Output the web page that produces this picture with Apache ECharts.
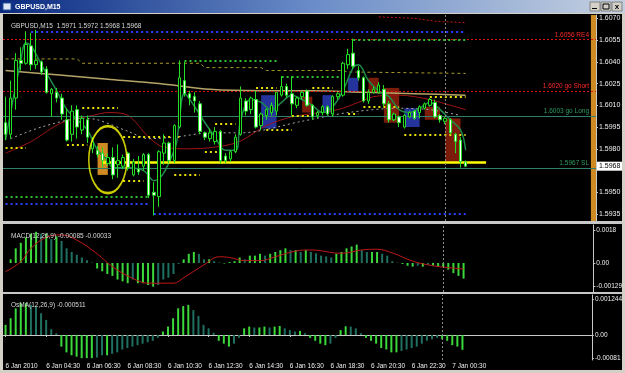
<!DOCTYPE html>
<html><head><meta charset="utf-8">
<script src="https://cdn.jsdelivr.net/npm/echarts@6/dist/echarts.min.js"></script>
<style>html,body{margin:0;padding:0;background:#000;}#c{width:625px;height:373px;}</style>
</head><body><div id="c"></div>
<script>
const symbolName = 'GBPUSD,M15';
const ohlcText = '1.5971 1.5972 1.5968 1.5968';
const macdTitle = 'MACD(12,26,9) -0.00085 -0.00033';
const osmaTitle = 'OsMA(12,26,9) -0.000511';
// candles: [open, close, low, high]
const candles = [
[1.5998,1.5990,1.5986,1.6016],[1.5990,1.6015,1.5987,1.6027],[1.6015,1.6041,1.6007,1.6046],[1.6041,1.6039,1.6034,1.6050],
[1.6039,1.6052,1.6038,1.6061],[1.6051,1.6038,1.6034,1.6060],[1.6038,1.6041,1.6035,1.6062],[1.6040,1.6033,1.6031,1.6041],
[1.6035,1.6019,1.6018,1.6037],[1.6018,1.6021,1.6002,1.6022],[1.6019,1.6015,1.6012,1.6022],[1.6015,1.6004,1.6000,1.6018],
[1.6000,1.5986,1.5985,1.6008],[1.5990,1.6006,1.5985,1.6010],[1.6007,1.5995,1.5987,1.6010],[1.5993,1.6001,1.5990,1.6003],
[1.6000,1.5988,1.5984,1.6003],[1.5980,1.5985,1.5977,1.5988],[1.5979,1.5976,1.5974,1.5982],[1.5977,1.5972,1.5967,1.5981],
[1.5970,1.5974,1.5968,1.5977],[1.5974,1.5962,1.5959,1.5981],[1.5969,1.5972,1.5960,1.5983],[1.5968,1.5974,1.5966,1.5976],
[1.5977,1.5967,1.5965,1.5978],[1.5962,1.5971,1.5961,1.5973],[1.5966,1.5964,1.5962,1.5975],[1.5968,1.5976,1.5965,1.5977],
[1.5976,1.5948,1.5946,1.5977],[1.5950,1.5948,1.5934,1.5957],[1.5947,1.5978,1.5940,1.5979],[1.5977,1.5984,1.5969,1.5990],
[1.5984,1.5972,1.5970,1.5985],[1.5972,1.5996,1.5970,1.5997],[1.5995,1.6029,1.5994,1.6041],[1.6027,1.6018,1.6016,1.6040],
[1.6018,1.6015,1.6010,1.6020],[1.6016,1.6013,1.6005,1.6019],[1.6011,1.5992,1.5990,1.6013],[1.5991,1.5988,1.5986,1.5992],
[1.5987,1.5991,1.5985,1.5994],[1.5985,1.5992,1.5983,1.5995],[1.5992,1.5972,1.5970,1.5993],[1.5975,1.5972,1.5970,1.5977],
[1.5973,1.5978,1.5971,1.5979],[1.5978,1.5988,1.5977,1.5990],[1.5990,1.6015,1.5989,1.6023],[1.6013,1.6006,1.6003,1.6015],
[1.6007,1.6015,1.6004,1.6016],[1.6014,1.5995,1.5994,1.6020],[1.5996,1.6004,1.5993,1.6005],[1.6003,1.6007,1.6000,1.6008],
[1.6005,1.6010,1.6003,1.6012],[1.6006,1.6019,1.6003,1.6019],[1.6017,1.6023,1.6016,1.6030],[1.6023,1.6017,1.6015,1.6025],
[1.6018,1.6011,1.6003,1.6030],[1.6010,1.6015,1.6008,1.6016],[1.6016,1.6019,1.6014,1.6020],[1.6020,1.6010,1.6009,1.6021],
[1.6010,1.6002,1.6000,1.6011],[1.6003,1.6005,1.6001,1.6006],[1.6005,1.6009,1.6003,1.6010],[1.6009,1.6004,1.6003,1.6010],
[1.6004,1.6016,1.6002,1.6017],[1.6016,1.6018,1.6014,1.6019],[1.6017,1.6039,1.6016,1.6040],[1.6038,1.6045,1.6035,1.6049],
[1.6046,1.6037,1.6035,1.6056],[1.6034,1.6029,1.6027,1.6037],[1.6029,1.6013,1.6012,1.6030],[1.6013,1.6019,1.6011,1.6021],
[1.6019,1.6021,1.6018,1.6023],[1.6019,1.6024,1.6018,1.6026],[1.6021,1.6011,1.6009,1.6024],[1.6011,1.6000,1.5998,1.6013],
[1.6000,1.6004,1.5999,1.6005],[1.6002,1.5998,1.5995,1.6003],[1.5995,1.6003,1.5994,1.6004],[1.6002,1.6005,1.6001,1.6006],
[1.6006,1.6001,1.6000,1.6007],[1.6005,1.6009,1.6001,1.6010],[1.6008,1.6011,1.6007,1.6012],[1.6010,1.6014,1.6009,1.6015],
[1.6012,1.6002,1.6001,1.6014],[1.6003,1.6000,1.5998,1.6004],[1.5999,1.6001,1.5997,1.6002],[1.6000,1.5991,1.5990,1.6001],
[1.5990,1.5985,1.5977,1.5991],[1.5986,1.5971,1.5967,1.5988],[1.5971,1.5968,1.5968,1.5972]
];
const slotCount = 116;
const barsPerLabel = 8;
const timeLabels = ['6 Jan 2010','6 Jan 04:30','6 Jan 06:30','6 Jan 08:30','6 Jan 10:30','6 Jan 12:30',
  '6 Jan 14:30','6 Jan 16:30','6 Jan 18:30','6 Jan 20:30','6 Jan 22:30','7 Jan 00:30'];
const priceTicks = [1.5935,1.5950,1.5980,1.5995,1.6010,1.6025,1.6040,1.6055,1.6070];
const priceRange = [1.59302, 1.60723];
const lastPrice = 1.5968;
const macdHist = [
0,0.0002,0.0008,0.0011,0.0014,0.0016,0.0017,0.0016,0.0016,0.0013,
0.00145,0.0012,0.0008,0.0006,0.00045,0.0003,0.00015,0.00002,-0.0003,-0.00045,
-0.0006,-0.0007,-0.0009,-0.001,-0.0011,-0.0009,-0.0011,-0.0011,-0.0012,-0.00129,
-0.0012,-0.0009,-0.0008,-0.0006,-0.00005,0.0002,0.0005,0.0006,0.0005,0.0002,
0.0002,0.0001,0.00003,-0.00003,0.00005,0.0001,0.0003,0.0002,0.0004,0.0004,
0.0005,0.0004,0.0005,0.0006,0.0007,0.0008,0.0007,0.0007,0.0006,0.0007,
0.0006,0.00053,0.0004,0.00036,0.0003,0.0005,0.0006,0.0008,0.0009,0.001,
0.0007,0.0006,0.0006,0.0006,0.0005,0.0004,0.0001,0.00002,-0.00005,-0.00015,
-0.0002,-0.00015,-0.0002,-0.0001,-0.00015,-0.0002,-0.00022,-0.00036,-0.00055,-0.0007,
-0.00085];
const macdSignal = [[0,-0.00047],[3,0.00007],[5,0.0008],[8,0.0014],[11,0.00153],[14,0.00125],[18,0.0005],
  [21,-0.0002],[25,-0.00084],[28,-0.0011],[33,-0.0011],[35,-0.0008],[39,-0.0001],[42,0.00034],[44,0.0003],
  [47,0.00013],[50,0.00013],[53,0.00034],[57,0.00065],[60,0.00071],[66,0.00053],[70,0.00071],[73,0.00075],
  [76,0.00055],[80,0.0001],[84,-0.00015],[87,-0.00025],[90,-0.00033]];
const macdRange = [-0.00158, 0.00207];
const macdTicks = [0.0018, 0, -0.00129];
const macdTickText = ['0.0018','0.00','-0.00129'];
const osma = [
0.00035,0.00058,0.00092,0.0011,0.0011,0.00104,0.001,0.00075,0.00052,0.0002,
0.00006,-0.0004,-0.0006,-0.0007,-0.00075,-0.0008,-0.0008,-0.0008,-0.00078,-0.0007,
-0.0007,-0.00065,-0.0006,-0.0005,-0.00045,-0.0004,-0.00035,-0.0003,-0.00025,-0.0002,
-0.0001,0.00012,0.00029,0.00058,0.00092,0.001,0.00104,0.00086,0.00066,0.00035,
0.00023,0.00008,-0.0002,-0.0003,-0.0004,-0.0003,-0.0001,0.00023,0.00029,0.00026,
0.00026,0.00029,0.00026,0.00029,0.00031,0.00023,0.00017,0.00012,0.00014,0.00006,
-0.0001,-0.0002,-0.0003,-0.00035,-0.0003,-0.0001,0.00017,0.0003,0.00029,0.00023,
0.00006,-0.0001,-0.0002,-0.0003,-0.00045,-0.0005,-0.0006,-0.0006,-0.00055,-0.0005,
-0.00045,-0.0004,-0.0003,-0.0002,-0.00015,-0.0001,-0.00015,-0.0002,-0.00035,-0.0004,
-0.000511];
const osmaRange = [-0.000864, 0.001382];
const osmaTicks = [0.001244, 0, -0.00081];
const osmaTickText = ['0.001244','0.00','-0.00081'];
// moving averages read as [bar, price]
const fastMA = [[0,1.5986],[3,1.6041],[4,1.6053],[8,1.6032],[10,1.6020],[12,1.6007],[14,1.6000],[16,1.5993],
  [18,1.5979],[20,1.5972],[21,1.5967],[24,1.5967],[27,1.5965],[29,1.5958],[33,1.5979],[34,1.6000],[35,1.6018],
  [37,1.6009],[39,1.5998],[41,1.5988],[43,1.5979],[45,1.5979],[46,1.6000],[48,1.6014],[50,1.6012],[52,1.6007],
  [54,1.6012],[56,1.6017],[58,1.6014],[60,1.6010],[62,1.6005],[64,1.6009],[66,1.6020],[68,1.6036],[69,1.6038],
  [71,1.6027],[73,1.6020],[75,1.6016],[77,1.6007],[79,1.6005],[81,1.6008],[83,1.6012],[85,1.6007],[87,1.6000],
  [89,1.5993],[90,1.5979]];
const redMA = [[0,1.5977],[5,1.5985],[11,1.5998],[17,1.6003],[20,1.6005],[24,1.6003],[28,1.5988],[31,1.5981],
  [36,1.5980],[45,1.5984],[51,1.5996],[56,1.6002],[65,1.6007],[69,1.6012],[72,1.6016],[77,1.6017],[83,1.6014],
  [87,1.6010],[90,1.6007]];
const greyMA = [[1,1.5987],[7,1.5995],[15,1.6001],[18,1.6000],[24,1.5992],[28,1.5987],[33,1.5988],[40,1.5991],
  [46,1.5991],[58,1.5999],[67,1.6005],[77,1.6008],[83,1.6007],[89,1.6003]];
const longMA = [[0,1.6034],[10,1.6031],[20,1.6028],[30,1.6025],[40,1.6021],[50,1.6020],[60,1.6020],
  [70,1.6019],[80,1.6018],[90,1.6017]];
const stepMA = [[0,1.6042],[14,1.6042],[15,1.6039],[38,1.6039],[39,1.6036],[50,1.6036],[51,1.6034],
  [66,1.6034],[67,1.6033],[90,1.6032]];
const topTrend = [[73,1.6071],[80,1.6070],[84,1.6068],[90,1.6067]];
// dotted level segments [fromBar, toBar, price]
const yellowLevels = [[0,4,1.5981],[12,16,1.5983],[15,22,1.6008],[23,27,1.5958],[23,34,1.5988],[33,38,1.5962],
  [39,42,1.5978],[41,45,1.5997],[49,53,1.6022],[60,64,1.6022],[51,56,1.5993],[56,60,1.6003],[67,69,1.6004],
  [70,77,1.6009],[78,90,1.5990],[83,90,1.6016]];
const greenLevels = [[35,53,1.6041],[54,66,1.6030],[68,90,1.60555],[0,28,1.5947]];
const blueLevels = [[5,90,1.6061],[0,28,1.5942],[29,90,1.5935]];
const supportLine = [19, 94, 1.59707];
// full-width labelled lines
const namedLevels = [
  {price:1.60555, text:'1.6056 RE4', kind:'red'},
  {price:1.6020, text:'1.6020 go Short', kind:'red'},
  {price:1.60026, text:'1.6003 go Long', kind:'teal'},
  {price:1.59667, text:'1.5967 SL', kind:'teal'}
];
// boxes [fromBar, toBar, top, bottom]
const blueBoxes = [[50,53,1.6017,1.5994],[62,64,1.6017,1.6005],[67,69,1.6029,1.6019],[78,81,1.6008,1.5995]];
const redBoxes = [[58,60,1.6016,1.6005],[71,73,1.6029,1.6019],[74,77,1.6022,1.5998],[82,85,1.6009,1.6000],[86,89,1.6001,1.5971]];
const orangeBoxes = [[18,20,1.5984,1.5962]];
const ellipseAt = [20, 1.59725];
const daySeparator = 86;
const shiftSlot = 115;

const FONT = 'Liberation Sans';
const categories = [];
for (let i = 0; i < slotCount; i++) {
  const t = 150 + 15 * i, d = 6 + Math.floor(t / 1440), m = t % 1440;
  categories.push(d + ' Jan ' + String(Math.floor(m/60)).padStart(2,'0') + ':' + String(m%60).padStart(2,'0'));
}
const isLabel = (idx) => idx % barsPerLabel === 0 && idx / barsPerLabel < timeLabels.length;
const tickFmt = (ticks, texts) => (v) => { const k = ticks.findIndex(t => Math.abs(t - v) < 1e-9); return k >= 0 ? texts[k] : ''; };

const seg = (arr, color, width, dash) => arr.map(([a,b,p]) => [
  {coord:[a,p], lineStyle:{color, width, type:dash}}, {coord:[b,p]}]);
const box = (arr, color) => arr.map(([a,b,t,bt]) => [{coord:[a,t], itemStyle:{color}}, {coord:[b,bt]}]);

const lvlColor = {red:'#e01010', teal:'#2f7f6a'};
const lvlText = {red:'#ff2a2a', teal:'#2e9a60'};
const namedLines = namedLevels.map(l => ({
  yAxis: l.price,
  lineStyle:{color:lvlColor[l.kind], width:1, type: l.kind === 'red' ? [2,2] : 'solid'},
  label:{show:true, position:'insideEndTop', formatter:l.text, color:lvlText[l.kind], fontSize:6.5, fontFamily:FONT, distance:[7,1]}
}));

const histColor = (arr, bright, dark) => (p) => {
  const i = p.dataIndex, v = arr[i], pv = i > 0 ? arr[i-1] : 0;
  return Math.abs(v) >= Math.abs(pv) ? bright : dark;
};
const sepLine = {symbol:['none','none'], silent:true, precision:6, label:{show:false},
  lineStyle:{color:'#8a8a8a', type:[2,2], width:1}, data:[{xAxis: daySeparator}]};

const xAxisBase = (gi) => ({type:'category', gridIndex:gi, data:categories, boundaryGap:true,
  axisLine:{show:false}, axisTick:{show:false}, axisLabel:{show:false}, splitLine:{show:false}});
const yAxisBase = (gi, range, ticks, fmt, size) => ({type:'value', gridIndex:gi, position:'right', min:range[0], max:range[1],
  axisLine:{show:true, lineStyle:{color:'#c8c8c8', width:1}},
  axisTick:{show:true, length:2, customValues:ticks, lineStyle:{color:'#c8c8c8'}},
  axisLabel:{customValues:ticks, formatter:fmt, color:'#f0f0f0', fontSize:size, fontFamily:FONT, margin:3},
  splitLine:{show:false}});

const shiftData = categories.map((c,i) => i === shiftSlot ? priceRange[1] : null);

const option = {
  backgroundColor:'#000',
  animation:false,
  textStyle:{fontFamily:FONT},
  title:[
    {text: symbolName + '  ' + ohlcText, left:6, top:18, textStyle:{color:'#d8d8d8', fontSize:6.5, fontWeight:'normal', fontFamily:FONT}},
    {text: macdTitle, left:6, top:228, textStyle:{color:'#d8d8d8', fontSize:6.5, fontWeight:'normal', fontFamily:FONT}},
    {text: osmaTitle, left:6, top:297, textStyle:{color:'#d8d8d8', fontSize:6.5, fontWeight:'normal', fontFamily:FONT}}
  ],
  grid:[
    {left:3, top:15, width:593, height:206},
    {left:3, top:225, width:593, height:67},
    {left:3, top:295, width:593, height:65}
  ],
  xAxis:[
    xAxisBase(0), xAxisBase(1),
    Object.assign(xAxisBase(2), {
      axisLine:{show:true, lineStyle:{color:'#c8c8c8'}},
      axisTick:{show:true, alignWithLabel:true, interval:(i)=>isLabel(i), length:2, lineStyle:{color:'#c8c8c8'}},
      axisLabel:{show:true, interval:(i)=>isLabel(i), formatter:(v,i)=>timeLabels[i/barsPerLabel] || '',
        color:'#f0f0f0', fontSize:6.5, fontFamily:FONT, align:'left', margin:3}
    })
  ],
  yAxis:[
    yAxisBase(0, priceRange, priceTicks, (v)=>v.toFixed(4), 7),
    yAxisBase(1, macdRange, macdTicks, tickFmt(macdTicks, macdTickText), 6.5),
    yAxisBase(2, osmaRange, osmaTicks, tickFmt(osmaTicks, osmaTickText), 6.5)
  ],
  graphic:[
    {type:'rect', z:100, shape:{x:0,y:0,width:625,height:13}, style:{fill:new echarts.graphic.LinearGradient(0,0,1,0,[
      {offset:0,color:'#0a2a80'},{offset:0.5,color:'#6a8cc8'},{offset:1,color:'#c4d0e0'}])}},
    {type:'rect', z:100, shape:{x:0,y:13,width:625,height:1}, style:{fill:'#d4d0c8'}},
    {type:'rect', z:101, shape:{x:3,y:3,width:8,height:7}, style:{fill:'#dfe8f4', stroke:'#28509a', lineWidth:1}},
    {type:'text', z:101, style:{text:symbolName, x:15, y:7, fill:'#ffffff', font:'bold 7px "Liberation Sans"', verticalAlign:'middle'}},
    {type:'rect', z:101, shape:{x:590,y:2,width:10,height:9}, style:{fill:'#d4d0c8', stroke:'#808080', lineWidth:1}},
    {type:'rect', z:101, shape:{x:601,y:2,width:10,height:9}, style:{fill:'#d4d0c8', stroke:'#808080', lineWidth:1}},
    {type:'rect', z:101, shape:{x:612,y:2,width:10,height:9}, style:{fill:'#d4d0c8', stroke:'#808080', lineWidth:1}},
    {type:'rect', z:102, shape:{x:592,y:8,width:5,height:1}, style:{fill:'#000'}},
    {type:'rect', z:102, shape:{x:603,y:4,width:6,height:5}, style:{fill:'none', stroke:'#000', lineWidth:1}},
    {type:'text', z:102, style:{text:'x', x:617, y:6.5, fill:'#000', font:'bold 8px "Liberation Sans"', align:'center', verticalAlign:'middle'}},
    {type:'rect', z:100, shape:{x:0,y:14,width:3,height:359}, style:{fill:'#d4d0c8'}},
    {type:'rect', z:100, shape:{x:622,y:14,width:3,height:359}, style:{fill:'#d4d0c8'}},
    {type:'rect', z:100, shape:{x:0,y:370,width:625,height:3}, style:{fill:'#d4d0c8'}},
    {type:'rect', z:100, shape:{x:3,y:221,width:619,height:3}, style:{fill:'#c8c8c8'}},
    {type:'rect', z:100, shape:{x:3,y:292,width:619,height:2}, style:{fill:'#c8c8c8'}}
  ],
  series:[
    {type:'bar', xAxisIndex:0, yAxisIndex:0, data:shiftData, barWidth:'100%', itemStyle:{color:'#d08a24'}, z:1, silent:true},
    {type:'line', xAxisIndex:0, yAxisIndex:0, data:[[0,lastPrice]], symbol:'none', lineStyle:{opacity:0}, z:1, silent:true,
      markArea:{silent:true, data:[].concat(box(blueBoxes,'#24349c'), box(redBoxes,'#7c1c0a'), box(orangeBoxes,'#d08a24'))}},
    {type:'line', xAxisIndex:0, yAxisIndex:0, data:longMA, symbol:'none', smooth:0.3, lineStyle:{color:'#b4a468', width:1.5}, z:3, silent:true},
    {type:'line', xAxisIndex:0, yAxisIndex:0, data:stepMA, symbol:'none', lineStyle:{color:'#a89a28', width:1, type:[3,3]}, z:3, silent:true},
    {type:'line', xAxisIndex:0, yAxisIndex:0, data:redMA, symbol:'none', smooth:0.3, lineStyle:{color:'#a01414', width:1}, z:3, silent:true},
    {type:'line', xAxisIndex:0, yAxisIndex:0, data:greyMA, symbol:'none', smooth:0.3, lineStyle:{color:'#a8a8a8', width:1, type:[2,3]}, z:3, silent:true},
    {type:'line', xAxisIndex:0, yAxisIndex:0, data:topTrend, symbol:'none', lineStyle:{color:'#c01818', width:1, type:[2,2]}, z:3, silent:true},
    {type:'line', xAxisIndex:0, yAxisIndex:0, data:[[0,lastPrice]], symbol:'none', lineStyle:{opacity:0}, z:4, silent:true, clip:false,
      markLine:{symbol:['none','none'], silent:true, precision:6, label:{show:false}, data:[].concat(
        namedLines,
        seg(blueLevels,'#2840ff',2,[2,3]),
        seg(greenLevels,'#30c030',2,[2,3]),
        seg(yellowLevels,'#e8e000',2,[2,3]),
        [[{coord:[supportLine[0],supportLine[2]], lineStyle:{color:'#ffff00', width:2.5, type:'solid'}},{coord:[supportLine[1],supportLine[2]]}]],
        [{xAxis:daySeparator, lineStyle:{color:'#8a8a8a', type:[2,2], width:1}}]
      )}},
    {type:'line', xAxisIndex:0, yAxisIndex:0, data:[[0,lastPrice]], symbol:'none', lineStyle:{opacity:0}, z:20, silent:true, clip:false,
      markLine:{symbol:['none','none'], silent:true, precision:6, data:[
        {yAxis:lastPrice, lineStyle:{color:'rgba(0,0,0,0)', width:0.1}, label:{show:true, position:'end', formatter:lastPrice.toFixed(4),
          backgroundColor:'#ffffff', color:'#000000', fontSize:7, fontFamily:FONT, padding:[1,3,1,2], distance:1}}]}},
    {type:'line', xAxisIndex:0, yAxisIndex:0, data:fastMA, symbol:'none', smooth:0.4, lineStyle:{color:'#1f8a4a', width:1.5}, z:4, silent:true},
    {type:'candlestick', xAxisIndex:0, yAxisIndex:0, data:candles, barWidth:3, z:5, silent:true,
      itemStyle:{color:'#000000', color0:'#ffffff', borderColor:'#22e022', borderColor0:'#22e022', borderWidth:1}},
    {type:'scatter', xAxisIndex:0, yAxisIndex:0, data:[ellipseAt], symbol:'circle', symbolSize:[38,67], z:6, silent:true,
      itemStyle:{color:'rgba(0,0,0,0)', borderColor:'#ffff00', borderWidth:2}},
    {type:'bar', xAxisIndex:1, yAxisIndex:1, data:macdHist, barWidth:2, silent:true,
      itemStyle:{color:histColor(macdHist,'#3ad83a','#1f7060')}, markLine:sepLine},
    {type:'line', xAxisIndex:1, yAxisIndex:1, data:macdSignal, symbol:'none', smooth:0.4, lineStyle:{color:'#c01818', width:1}, z:4, silent:true},
    {type:'bar', xAxisIndex:2, yAxisIndex:2, data:osma, barWidth:2, silent:true,
      itemStyle:{color:histColor(osma,'#3ad83a','#1f7060')}, markLine:sepLine}
  ]
};
const chart = echarts.init(document.getElementById('c'), null, {renderer:'canvas'});
chart.setOption(option);
</script>
</body></html>
